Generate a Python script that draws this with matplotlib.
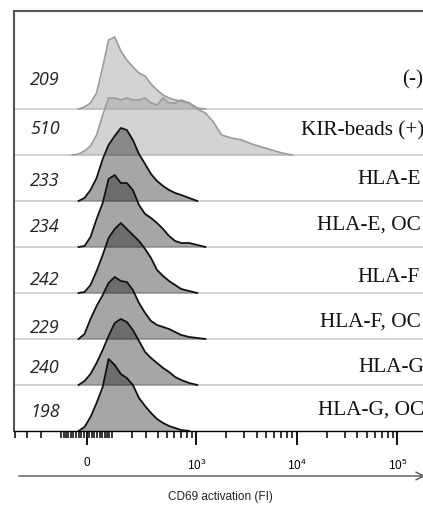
import numpy as np
import matplotlib
matplotlib.use('Agg')
import matplotlib.pyplot as plt
from matplotlib.ticker import FixedLocator

plt.rcParams['font.family'] = ['Liberation Sans', 'DejaVu Sans']
plt.rcParams['mathtext.default'] = 'regular'

# CD69 fluorescence values (FI) at which the histogram heights were read
fi = [-78, -54, -30, -7.5, 15, 38, 62, 86, 113, 142, 173, 208, 247, 291, 339,
      394, 457, 528, 610, 703, 849, 1024, 1234, 1485, 1788, 2251, 2835, 3570,
      4497, 5661, 7128, 8976]

# histogram heights (event counts, arbitrary units), top row first
h_neg = [0, 0, 0, 2, 6, 16, 42, 69, 72, 58, 49, 42, 36, 33, 25, 19, 14, 11, 9, 8,
         6, 1, 0, 0, 0, 0, 0, 0, 0, 0, 0, 0]
h_kir = [0, 0, 1, 4, 9, 20, 40, 57, 57, 55, 57, 55, 55, 57, 52, 50, 57, 52, 52, 55,
         52, 46, 42, 33, 20, 17, 15, 11, 8, 5, 2, 0]
h_e = [0, 0, 0, 3, 11, 23, 42, 56, 65, 73, 71, 61, 47, 37, 27, 20, 15, 11, 8, 6,
       3, 0, 0, 0, 0, 0, 0, 0, 0, 0, 0, 0]
h_e_oc = [0, 0, 0, 1, 10, 28, 44, 68, 72, 64, 64, 57, 42, 33, 29, 24, 18, 11, 6, 4,
          4, 2, 0, 0, 0, 0, 0, 0, 0, 0, 0, 0]
h_f = [0, 0, 0, 1, 8, 22, 38, 55, 64, 70, 64, 58, 52, 44, 35, 23, 17, 12, 8, 4,
       2, 0, 0, 0, 0, 0, 0, 0, 0, 0, 0, 0]
h_f_oc = [0, 0, 0, 5, 20, 33, 44, 56, 62, 58, 57, 49, 36, 26, 18, 14, 12, 10, 7, 4,
          2, 1, 0, 0, 0, 0, 0, 0, 0, 0, 0, 0]
h_g = [0, 0, 0, 4, 11, 22, 35, 49, 62, 66, 63, 55, 44, 33, 27, 22, 17, 13, 8, 5,
       2, 0, 0, 0, 0, 0, 0, 0, 0, 0, 0, 0]
h_g_oc = [0, 0, 0, 4, 14, 28, 44, 72, 66, 57, 53, 46, 33, 25, 18, 12, 8, 5, 3, 1,
          0, 0, 0, 0, 0, 0, 0, 0, 0, 0, 0, 0]

hists = [h_neg, h_kir, h_e, h_e_oc, h_f, h_f_oc, h_g, h_g_oc]
mfi = ['209', '510', '233', '234', '242', '229', '240', '198']
names = ['(-)', 'KIR-beads (+)', 'HLA-E', 'HLA-E, OC', 'HLA-F', 'HLA-F, OC',
         'HLA-G', 'HLA-G, OC']

tick_vals = [0, 1e3, 1e4, 1e5]
tick_text = ['0', '$10^3$', '$10^4$', '$10^5$']

# label placement (offset above row baseline, figure px) and name start x
mfi_dy = [29, 26, 20, 20, 13, 11, 17, 19]
name_x = [402, 301, 357, 317, 357, 320, 358, 318]
name_dy = [29, 24, 21, 22, 15, 17, 17, 21]

W = 163.7  # biexponential width


def fwd(x):
    return np.arcsinh(np.asarray(x) / W) / np.log(10)


def inv(y):
    return W * np.sinh(np.asarray(y) * np.log(10))


fig = plt.figure(figsize=(4.23, 5.08), dpi=100)
ax = fig.add_axes([14 / 423, 77 / 508, 430 / 423, 420 / 508])
ax.set_xscale('function', functions=(fwd, inv))
ax.set_xlim(-414, 290000)
ax.set_ylim(0, 420)

step = 46
n = len(hists)
xs = np.array(fi, dtype=float)
for i, h in enumerate(hists):
    base = (n - 1 - i) * step
    h = np.array(h, dtype=float)
    nz = np.nonzero(h)[0]
    lo, hi = max(nz[0] - 1, 0), min(nz[-1] + 2, len(h))
    x = xs[lo:hi]
    y = base + h[lo:hi]
    if i < 2:
        ax.fill_between(x, base, y, color='#a3a3a3', alpha=0.47, lw=0, zorder=2 + i)
        ax.plot(x, y, color='#9a9a9a', lw=1.2, zorder=2 + i)
    else:
        ax.fill_between(x, base, y, color='black', alpha=0.35, lw=0, zorder=2 + i)
        ax.plot(x, y, color='#111111', lw=1.3, zorder=2 + i)
    if i < n - 1:
        ax.axhline(base, color='#cfcfcf', lw=1.3, zorder=1)
    ypix = 508 - 431 + base
    fig.text(30 / 423, (ypix + mfi_dy[i]) / 508, mfi[i], fontsize=13, style='italic',
             family=['Open Sans', 'DejaVu Sans'], color='#222222', va='center', ha='left')
    fig.text(name_x[i] / 423, (ypix + name_dy[i]) / 508, names[i], fontsize=15.3,
             family=['Liberation Serif', 'DejaVu Serif'], color='#111111', va='center', ha='left')

minor = ([-400, -300, -200, -100] + list(range(-90, 0, 10)) + list(range(10, 100, 10))
         + list(range(100, 1000, 100)) + list(range(2000, 10000, 1000))
         + list(range(20000, 100000, 10000)) + [200000])
ax.xaxis.set_major_locator(FixedLocator(tick_vals))
ax.set_xticklabels(tick_text)
ax.xaxis.set_minor_locator(FixedLocator(minor))
ax.tick_params(axis='x', which='major', length=10, width=1.3, color='black',
               labelsize=8.5, pad=9)
ax.tick_params(axis='x', which='minor', length=5, width=1.1, color='black')
ax.set_yticks([])

ax.spines['right'].set_visible(False)
ax.spines['left'].set_color('#555555')
ax.spines['left'].set_linewidth(1.5)
ax.spines['top'].set_color('#555555')
ax.spines['top'].set_linewidth(1.5)
ax.spines['bottom'].set_color('black')
ax.spines['bottom'].set_linewidth(1.0)

ax.annotate('', xy=(428, 32), xytext=(16, 32), xycoords='figure pixels',
            textcoords='figure pixels',
            arrowprops=dict(arrowstyle='->', color='#555555', lw=1.0,
                            mutation_scale=14))
fig.text(220 / 423, 11 / 508, 'CD69 activation (FI)', fontsize=8.5,
         ha='center', va='center', color='#222222')

plt.savefig('out.png', dpi=100)
